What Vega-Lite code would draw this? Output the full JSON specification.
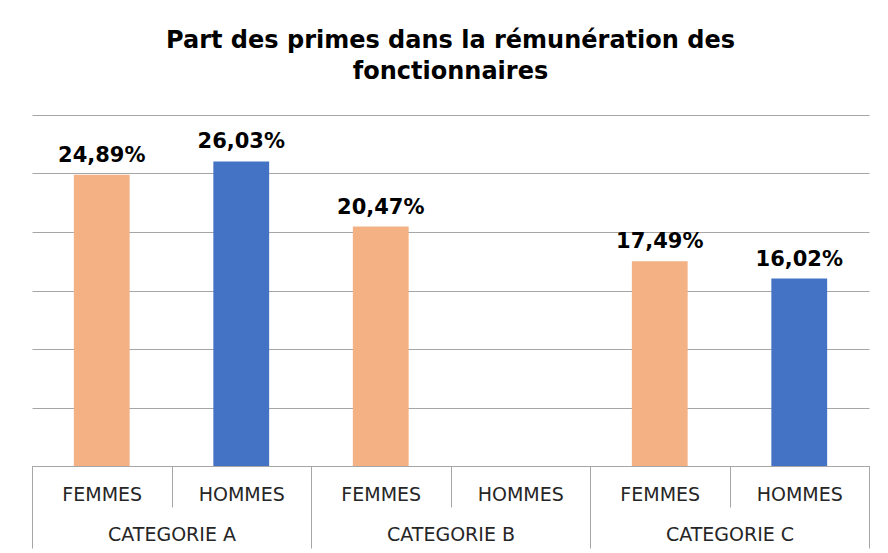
{
  "$schema": "https://vega.github.io/schema/vega-lite/v6.json",
  "width": 837,
  "height": 351,
  "autosize": "none",
  "padding": {"left": 32, "top": 115, "right": 19, "bottom": 87},
  "background": "white",
  "config": {
    "view": {"stroke": null},
    "font": "DejaVu Sans",
    "locale": {"number": {"decimal": ",", "thousands": " ", "grouping": [3], "currency": ["", " €"]}}
  },
  "title": {
    "text": ["Part des primes dans la rémunération des", "fonctionnaires"],
    "font": "DejaVu Sans",
    "fontSize": 24,
    "fontWeight": "bold",
    "color": "#000000",
    "anchor": "middle",
    "offset": 31,
    "lineHeight": 31
  },
  "data": {
    "values": [
      {"categorie": "CATEGORIE A", "sexe": "FEMMES", "slot": "A|FEMMES", "valeur": 0.2489},
      {"categorie": "CATEGORIE A", "sexe": "HOMMES", "slot": "A|HOMMES", "valeur": 0.2603},
      {"categorie": "CATEGORIE B", "sexe": "FEMMES", "slot": "B|FEMMES", "valeur": 0.2047},
      {"categorie": "CATEGORIE B", "sexe": "HOMMES", "slot": "B|HOMMES", "valeur": null},
      {"categorie": "CATEGORIE C", "sexe": "FEMMES", "slot": "C|FEMMES", "valeur": 0.1749},
      {"categorie": "CATEGORIE C", "sexe": "HOMMES", "slot": "C|HOMMES", "valeur": 0.1602}
    ]
  },
  "layer": [
    {
      "transform": [{"filter": "datum.valeur != null"}],
      "encoding": {
        "x": {
          "field": "slot",
          "type": "nominal",
          "sort": null,
          "scale": {"domain": ["A|FEMMES", "A|HOMMES", "B|FEMMES", "B|HOMMES", "C|FEMMES", "C|HOMMES"], "paddingInner": 0, "paddingOuter": 0},
          "axis": {
            "title": null,
            "orient": "bottom",
            "labelExpr": "split(datum.label, '|')[1]",
            "labelAngle": 0,
            "labelFontSize": 19,
            "labelColor": "#262626",
            "labelPadding": -13,
            "labelBaseline": "middle",
            "tickBand": "extent",
            "tickSize": 41,
            "tickColor": "#a6a6a6",
            "domainColor": "#a6a6a6",
            "grid": false
          }
        },
        "y": {
          "field": "valeur",
          "type": "quantitative",
          "scale": {"domain": [0, 0.3], "nice": false},
          "axis": {
            "title": null,
            "labels": false,
            "ticks": false,
            "domain": false,
            "grid": true,
            "gridColor": "#a6a6a6",
            "values": [0, 0.05, 0.1, 0.15, 0.2, 0.25, 0.3]
          }
        }
      },
      "layer": [
        {
          "mark": {"type": "bar", "width": {"band": 0.4}},
          "encoding": {
            "color": {
              "field": "sexe",
              "type": "nominal",
              "scale": {"domain": ["FEMMES", "HOMMES"], "range": ["#F4B183", "#4472C4"]},
              "legend": null
            }
          }
        },
        {
          "mark": {"type": "text", "baseline": "alphabetic", "dy": -13, "fontSize": 21, "fontWeight": "bold", "color": "#000000", "font": "DejaVu Sans"},
          "encoding": {
            "text": {"field": "valeur", "type": "quantitative", "format": ".2%"}
          }
        }
      ]
    },
    {
      "mark": {"type": "tick", "opacity": 0},
      "encoding": {
        "x": {
          "field": "categorie",
          "type": "nominal",
          "sort": null,
          "scale": {"domain": ["CATEGORIE A", "CATEGORIE B", "CATEGORIE C"], "paddingInner": 0, "paddingOuter": 0},
          "axis": {
            "title": null,
            "orient": "bottom",
            "labelAngle": 0,
            "labelFontSize": 19,
            "labelColor": "#262626",
            "labelPadding": -14,
            "labelBaseline": "middle",
            "tickBand": "extent",
            "tickSize": 82,
            "tickColor": "#a6a6a6",
            "domain": false,
            "grid": false
          }
        }
      }
    }
  ],
  "resolve": {"scale": {"x": "independent"}, "axis": {"x": "independent"}}
}
